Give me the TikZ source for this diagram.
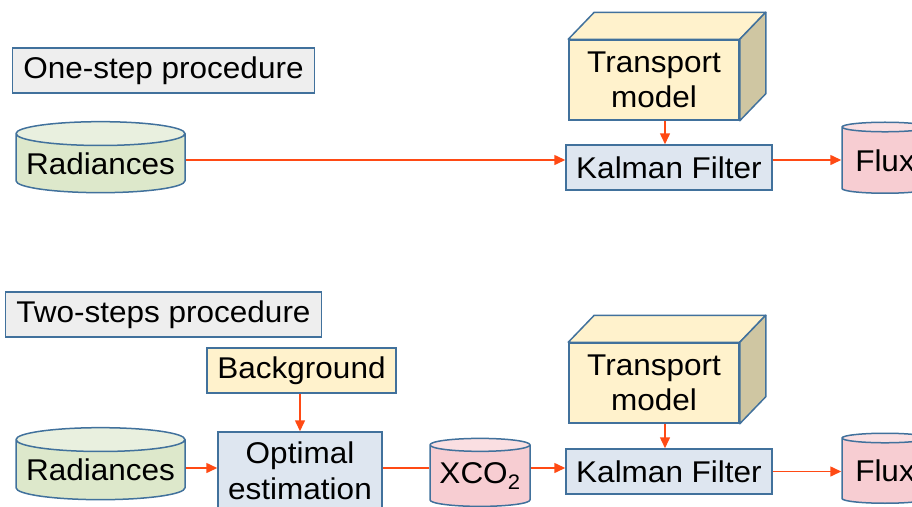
\documentclass[tikz,border=0pt]{standalone}
\usepackage{fontspec}
\setmainfont{Liberation Sans}[FakeStretch=1.05]
\usepackage{tikz}
\usetikzlibrary{shapes.geometric,arrows.meta,positioning,calc}

\definecolor{edgeblue}{HTML}{41719C}
\definecolor{flowred}{HTML}{FF4A14}
\definecolor{labelgray}{HTML}{EEEEEE}
\definecolor{paleyellow}{HTML}{FFF2CC}
\definecolor{sidetan}{HTML}{CFC6A2}
\definecolor{paleblue}{HTML}{DEE6F0}
\definecolor{palegreen}{HTML}{DDE8CB}
\definecolor{lightgreen}{HTML}{E9F0DF}
\definecolor{palepink}{HTML}{F7CDD2}
\definecolor{lightpink}{HTML}{FADFE2}

\begin{document}
\begin{tikzpicture}[
    x=1pt, y=-1pt,
    every node/.style={font=\fontsize{30}{35.5}\selectfont, inner sep=0pt},
    caption/.style={rectangle, draw=edgeblue, line width=1.5pt, fill=labelgray, minimum height=45pt},
    block/.style={rectangle, draw=edgeblue, line width=1.5pt, fill=paleblue, minimum height=45pt},
    prior/.style={rectangle, draw=edgeblue, line width=1.5pt, fill=paleyellow, minimum height=45pt},
    model/.style={rectangle, draw=edgeblue, line width=1.5pt, fill=paleyellow, minimum width=170pt, minimum height=80pt, align=center},
    store/.style={cylinder, shape border rotate=90, aspect=0.16, draw=edgeblue, line width=1.5pt, cylinder uses custom fill},
    greenstore/.style={store, cylinder body fill=palegreen, cylinder end fill=lightgreen},
    pinkstore/.style={store, cylinder body fill=palepink, cylinder end fill=lightpink},
    arrow/.style={-{Triangle[length=11pt,width=10pt]}, line width=1.5pt, flowred},
    link/.style={line width=1.5pt, flowred}
]
    \useasboundingbox (0,0) rectangle (912,506);
    \clip (0,0) rectangle (912,506);

    % one-step procedure
    \node[caption, minimum width=302pt] (onestep) at (163.5,70.5) {One-step procedure};
    \node[greenstore, minimum width=169pt, minimum height=71pt] (rad1) at (100.5,163.5) {Radiances};
    \node[block, minimum width=206pt] (kal1) at (669,167.5) {Kalman Filter};
    \node[model] (trans1) at (654,80) {Transport\\model};
    \node[pinkstore, minimum width=86pt, minimum height=71pt] (flux1) at (885,160.5) {Flux};
    \coordinate (row1) at (0,160);

    % two-steps procedure
    \node[caption, minimum width=316pt] (twostep) at (163.5,314.5) {Two-steps procedure};
    \node[prior, minimum width=189pt] (bg) at (301.5,370.5) {Background};
    \node[greenstore, minimum width=169pt, minimum height=72pt] (rad2) at (100.5,470) {Radiances};
    \node[block, minimum width=164pt, minimum height=78pt, align=center] (opt) at (300,471) {Optimal\\estimation};
    \node[pinkstore, minimum width=100pt, minimum height=68pt] (xco) at (480,476) {XCO\textsubscript{2}};
    \node[block, minimum width=206pt] (kal2) at (669,471.5) {Kalman Filter};
    \node[model] (trans2) at (654,383) {Transport\\model};
    \node[pinkstore, minimum width=86pt, minimum height=70pt] (flux2) at (885,471) {Flux};
    \coordinate (row2) at (0,468);

    % 3d faces of the transport model boxes
    \foreach \m in {trans1,trans2} {
        \draw[edgeblue, line width=1.5pt, line join=round, fill=paleyellow]
            (\m.north west) -- ++(26,-27) -- ($(\m.north east)+(26,-27)$) -- (\m.north east) -- cycle;
        \draw[edgeblue, line width=1.5pt, line join=round, fill=sidetan]
            (\m.north east) -- ++(26,-27) -- ($(\m.south east)+(26,-27)$) -- (\m.south east) -- cycle;
    }

    \draw[arrow] (rad1.east |- row1) -- (kal1.west |- row1);
    \draw[arrow] ([xshift=11pt]trans1.south) -- ([xshift=-4pt]kal1.north);
    \draw[arrow] (kal1.east |- row1) -- (flux1.west |- row1);

    \draw[arrow] (bg.south -| opt.north) -- (opt.north);
    \draw[arrow] (rad2.east |- row2) -- (opt.west |- row2);
    \draw[link] (opt.east |- row2) -- (xco.west |- row2);
    \draw[arrow] (xco.east |- row2) -- (kal2.west |- row2);
    \draw[arrow] ([xshift=11pt]trans2.south) -- ([xshift=-4pt]kal2.north);
    \draw[arrow] (kal2.east) -- (kal2.east -| flux2.west);
\end{tikzpicture}
\end{document}
